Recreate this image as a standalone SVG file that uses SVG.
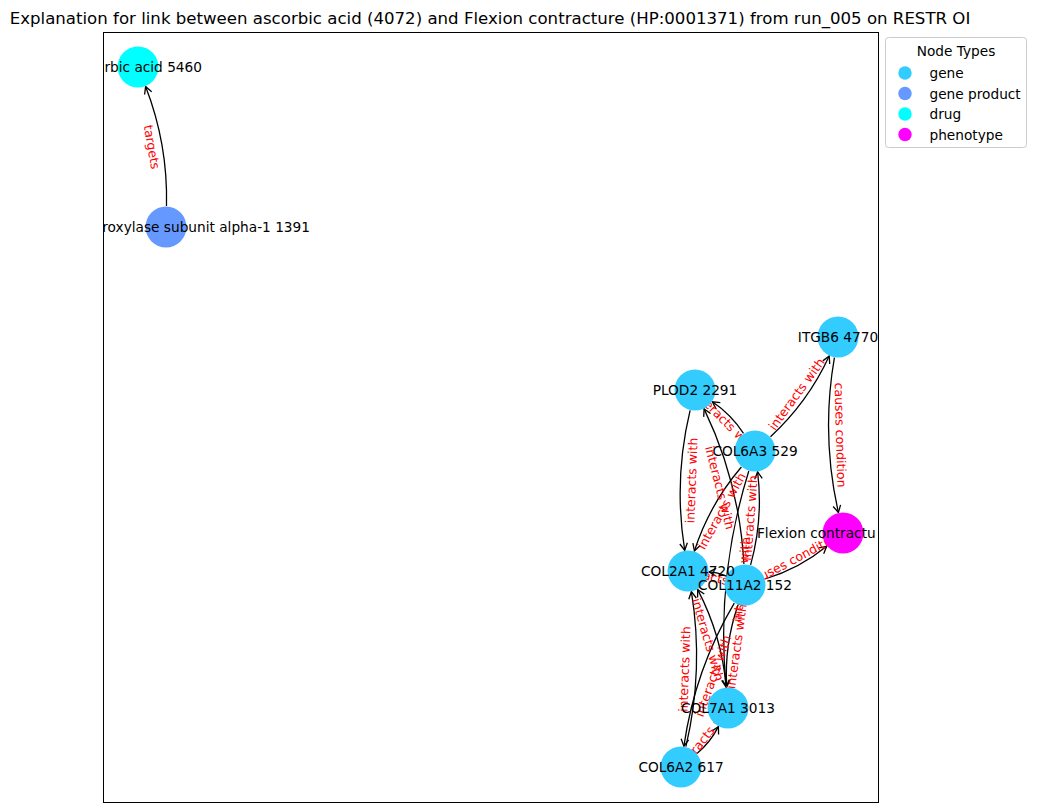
<svg xmlns="http://www.w3.org/2000/svg" width="1037" height="812" viewBox="0 0 1037 812">
  <style>
    .edge { fill: none; stroke: #000; stroke-width: 1.3; marker-end: url(#arrow); }
    .elabel { font-family: "DejaVu Sans", sans-serif; font-size: 12.5px; fill: #ff0000; text-anchor: middle; dominant-baseline: central; }
    .nlabel { font-family: "DejaVu Sans", sans-serif; font-size: 13.7px; fill: #000; text-anchor: middle; dominant-baseline: central; }
    .gene { fill: #33ccff; }
    .product { fill: #6699ff; }
    .drug { fill: #00ffff; }
    .pheno { fill: #ff00ff; }
    .legend { font-family: "DejaVu Sans", sans-serif; font-size: 13.7px; fill: #000; dominant-baseline: central; }
  </style>
  <defs>
    <clipPath id="axes">
      <rect x="103.5" y="32.5" width="775" height="770"/>
    </clipPath>
    <marker id="arrow" viewBox="-9 -5 10 10" refX="0" refY="0" markerWidth="10" markerHeight="10" markerUnits="userSpaceOnUse" orient="auto">
      <path d="M-7,-3.8 L0,0 L-7,3.8" fill="none" stroke="#000" stroke-width="1.3"/>
    </marker>
  </defs>

  <rect width="1037" height="812" fill="#fff"/>

  <text x="490" y="18" font-family="DejaVu Sans, sans-serif" font-size="16.6px" text-anchor="middle" dominant-baseline="central">Explanation for link between ascorbic acid (4072) and Flexion contracture (HP:0001371) from run_005 on RESTR OI</text>

  <g clip-path="url(#axes)">
    <!-- connectors -->
    <g id="edges">
      <path class="edge" d="M166.5,206 Q168,144.2 145.6,86.6"/>
      <path class="edge" d="M834.4,357.7 Q820.9,435.5 838.4,512.5"/>
      <path class="edge" d="M765.1,579 Q799.2,568.8 826.7,546.3"/>
      <path class="edge" d="M770.5,436.8 Q807.9,402.3 829.2,356.1"/>
      <path class="edge" d="M743.5,433.4 Q731.1,414.5 712.4,401.8"/>
      <path class="edge" d="M690.1,410.4 Q673.4,479.8 684.7,550.3"/>
      <path class="edge" d="M741.4,467 Q709.5,504.3 694.4,551"/>
      <path class="edge" d="M743.9,564 Q739.5,482.5 704.1,408.9"/>
      <path class="edge" d="M750.6,564.8 Q763.4,519 757.6,471.9"/>
      <path class="edge" d="M748.8,471 Q715.8,576.8 726.1,687.1"/>
      <path class="edge" d="M726,576.1 Q717.9,572.3 709,571.9"/>
      <path class="edge" d="M685.9,746.6 Q704.1,669.7 691.4,591.7"/>
      <path class="edge" d="M726.2,687.1 Q721.7,635.5 697.7,589.6"/>
      <path class="edge" d="M734.3,603.1 Q694.8,669.6 683.9,746.2"/>
      <path class="edge" d="M697,753.5 Q710.4,742.2 718.4,726.6"/>
      <path class="edge" d="M738.1,604.8 Q724.2,644.8 726.7,687"/>

      <!-- connector labels -->
      <text class="elabel" transform="translate(152,147) rotate(80.1)">targets</text>
      <text class="elabel" transform="translate(840.5,435) rotate(88.5)">causes condition</text>
      <text class="elabel" transform="translate(794,559) rotate(-27.9)">causes condition</text>
      <text class="elabel" transform="translate(796.5,394) rotate(-54)">interacts with</text>
      <text class="elabel" transform="translate(725,420.5) rotate(45.5)">interacts with</text>
      <text class="elabel" transform="translate(691.5,480.5) rotate(-87.8)">interacts with</text>
      <text class="elabel" transform="translate(721.5,511) rotate(-60.8)">interacts with</text>
      <text class="elabel" transform="translate(720,487.5) rotate(75.6)">interacts with</text>
      <text class="elabel" transform="translate(750,518) rotate(-85.7)">interacts with</text>
      <text class="elabel" transform="translate(741.5,579.5) rotate(-84)">interacts with</text>
      <text class="elabel" transform="translate(716.5,578) rotate(13.8)">interacts with</text>
      <text class="elabel" transform="translate(684.5,669) rotate(-88)">interacts with</text>
      <text class="elabel" transform="translate(708,639.5) rotate(73.7)">interacts with</text>
      <text class="elabel" transform="translate(713,676) rotate(-70.6)">interacts with</text>
      <text class="elabel" transform="translate(704.5,737.5) rotate(-51.5)">interacts with</text>
      <text class="elabel" transform="translate(736.5,646.5) rotate(-82.1)">interacts with</text>
    </g>

    <!-- nodes -->
    <g id="ascorbic-acid"><circle class="drug" cx="138" cy="67" r="20.5"/></g>
    <g id="p4ha1"><circle class="product" cx="166" cy="227" r="20.5"/></g>
    <g id="plod2"><circle class="gene" cx="695" cy="390" r="20.5"/></g>
    <g id="itgb6"><circle class="gene" cx="838" cy="337" r="20.5"/></g>
    <g id="col6a3"><circle class="gene" cx="755" cy="451" r="20.5"/></g>
    <g id="flexion"><circle class="pheno" cx="843" cy="533" r="20.5"/></g>
    <g id="col2a1"><circle class="gene" cx="688" cy="571" r="20.5"/></g>
    <g id="col11a2"><circle class="gene" cx="745" cy="585" r="20.5"/></g>
    <g id="col7a1"><circle class="gene" cx="728" cy="708" r="20.5"/></g>
    <g id="col6a2"><circle class="gene" cx="681" cy="767" r="20.5"/></g>

    <!-- node labels -->
    <g id="node-labels">
      <text class="nlabel" x="202" y="67" style="text-anchor:end">rbic acid 5460</text>
      <text class="nlabel" x="310" y="227" style="text-anchor:end">roxylase subunit alpha-1 1391</text>
      <text class="nlabel" x="695" y="390">PLOD2 2291</text>
      <text class="nlabel" x="838" y="337">ITGB6 4770</text>
      <text class="nlabel" x="755" y="451">COL6A3 529</text>
      <text class="nlabel" x="757" y="533" style="text-anchor:start">Flexion contractu</text>
      <text class="nlabel" x="688" y="571">COL2A1 4720</text>
      <text class="nlabel" x="745" y="585">COL11A2 152</text>
      <text class="nlabel" x="728" y="708">COL7A1 3013</text>
      <text class="nlabel" x="681" y="767">COL6A2 617</text>
    </g>
  </g>

  <!-- plot frame -->
  <rect x="103.5" y="32.5" width="775" height="770" fill="none" stroke="#000" stroke-width="1"/>

  <!-- legend -->
  <g id="legend">
    <rect x="885.5" y="37.5" width="141" height="110" rx="3" fill="#fff" fill-opacity="0.8" stroke="#cccccc" stroke-width="1"/>
    <text class="legend" x="956" y="51" text-anchor="middle">Node Types</text>
    <circle class="gene" cx="905" cy="73" r="6.7"/>
    <text class="legend" x="929.5" y="73">gene</text>
    <circle class="product" cx="905" cy="93.5" r="6.7"/>
    <text class="legend" x="929.5" y="93.5">gene product</text>
    <circle class="drug" cx="905" cy="114" r="6.7"/>
    <text class="legend" x="929.5" y="114">drug</text>
    <circle class="pheno" cx="905" cy="134.5" r="6.7"/>
    <text class="legend" x="929.5" y="134.5">phenotype</text>
  </g>
</svg>
